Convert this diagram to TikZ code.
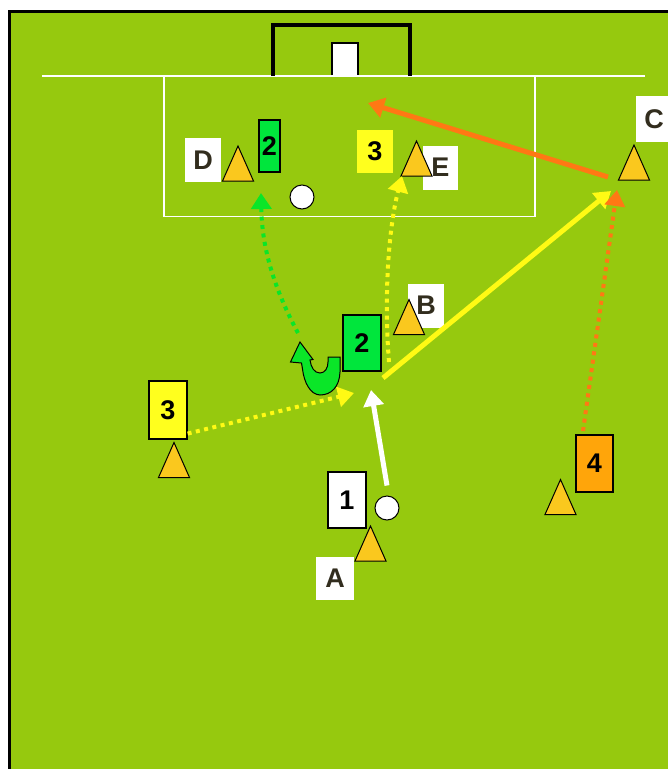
\documentclass[tikz,border=0pt]{standalone}
\usepackage{fontspec}
\setmainfont{Liberation Sans}
\usetikzlibrary{arrows.meta}

\definecolor{rasen}{RGB}{150,201,14}
\definecolor{hutfarbe}{RGB}{250,200,30}
\definecolor{gruen}{RGB}{0,230,60}
\definecolor{gelb}{RGB}{255,255,30}
\definecolor{orange}{RGB}{255,165,10}
\definecolor{laufgruen}{RGB}{10,230,40}
\definecolor{laufgelb}{RGB}{255,250,20}
\definecolor{lauforange}{RGB}{255,120,20}
\definecolor{schrift}{RGB}{50,45,30}

\tikzset{
    spieler/.style={rectangle, draw=black, line width=1.2pt, inner sep=0pt,
        minimum width=37pt, minimum height=56pt, font=\fontsize{27}{27}\selectfont\bfseries},
    marke/.style={rectangle, fill=white, inner sep=0pt, minimum width=36pt,
        minimum height=44pt, text=schrift, font=\fontsize{27}{27}\selectfont\bfseries},
    ball/.style={circle, draw=black, fill=white, line width=1pt, minimum size=24pt, inner sep=0pt},
    spitze/.style={-{Triangle[length=16pt,width=20pt]}},
    pass/.style={spitze, line width=4pt, dash pattern=on 4pt off 4.5pt},
    schuss/.style={spitze, line width=5pt},
    hut/.pic={\filldraw[fill=hutfarbe, draw=black, line width=1pt]
        (-15.5,17.5) -- (0,-17.5) -- (15.5,17.5) -- cycle;}
}

\begin{document}
\begin{tikzpicture}[x=1pt, y=-1pt]
    \useasboundingbox (0,0) rectangle (668,769);
    \clip (0,0) rectangle (668,769);
    % Spielfeld
    \fill[white] (0,0) rectangle (668,769);
    \fill[rasen] (9,11) rectangle (668,769);
    \draw[line width=2.5pt] (9.5,769) -- (9.5,11.5) -- (668,11.5);
    \draw[white, line width=2pt] (42,76) -- (645,76);
    \draw[white, line width=1.5pt] (164,76) -- (164,216.5) -- (535,216.5) -- (535,76);
    \draw[line width=4pt] (273,76) -- (273,25) -- (410,25) -- (410,76);
    \filldraw[fill=white, draw=black, line width=1.5pt] (332,75) -- (332,43) -- (358,43) -- (358,75);

    % Buchstaben
    \path node[marke] (D) at (203,160) {D}
        node[marke, minimum width=35pt] (E) at (440.5,167.5) {E}
        node[marke] (B) at (426,305.5) {B}
        node[marke, minimum width=36pt, minimum height=46pt] (C) at (654,119) {C}
        node[marke, minimum width=38pt, minimum height=43pt] (A) at (335,578.5) {A};

    % Huetchen
    \coordinate (hutD) at (238,163.5);
    \coordinate (hutE) at (416.5,158.5);
    \coordinate (hutB) at (409,317);
    \coordinate (hutL) at (174,460);
    \coordinate (hutA) at (370.5,543.5);
    \coordinate (hutC) at (634,162.5);
    \coordinate (hutV) at (560.5,497);
    \foreach \h in {hutD,hutE,hutB,hutL,hutA,hutC,hutV}
        \pic at (\h) {hut};

    % Laufwege
    \coordinate (annahme) at (354,393);
    \coordinate (abspiel) at (383,378);
    \coordinate (ziel) at (611,191);
    \coordinate (startE) at (389,362);
    \coordinate (zielE) at (402,176);
    \coordinate (startD) at (298,333);
    \coordinate (zielD) at (261,193);
    \coordinate (start4) at (583,431);
    \coordinate (ziel4) at (617,190);
    \coordinate (startC) at (608,177);
    \coordinate (zielC) at (368,103);
    \coordinate (anspiel) at (371,390);

    % Spieler und Baelle
    \path node[spieler, fill=gruen, minimum width=21pt, minimum height=52pt] (zweiO) at (269.5,146) {2}
        node[spieler, fill=gelb, draw=none, minimum width=36pt, minimum height=43pt] (dreiO) at (375,151.5) {3}
        node[spieler, fill=gruen, minimum width=38pt] (zwei) at (362,343) {2}
        node[spieler, fill=gelb, minimum width=38pt, minimum height=58pt] (drei) at (168,410) {3}
        node[spieler, fill=white, minimum width=38pt] (eins) at (347,500) {1}
        node[spieler, fill=orange, minimum height=57pt] (vier) at (594.5,463.5) {4}
        node[ball] (ballD) at (302,197) {}
        node[ball] (ballA) at (387,508) {};

    \draw[pass, laufgelb] ([yshift=6pt]drei.south east) -- (annahme);
    \draw[schuss, white] ([yshift=10pt]ballA.north) -- (anspiel);
    \draw[schuss, laufgelb] (abspiel) -- (ziel);
    \draw[pass, laufgelb] (startE) .. controls (384,300) and (388,230) .. (zielE);
    \draw[pass, laufgruen] (startD) .. controls (275,290) and (262,250) .. (zielD);
    \draw[pass, lauforange] (start4) -- (ziel4);
    \draw[schuss, lauforange] (startC) -- (zielC);

    % Drehung
    \filldraw[fill=laufgruen, draw=black, line width=1pt] (328,357) -- (340,357) -- (340,372)
        .. controls (339.5,387) and (331,395) .. (320,395)
        .. controls (310,394.5) and (304,382) .. (302.5,369) -- (301.5,363) -- (290.5,362) -- (300,342)
        -- (313,359.5) -- (310,360) .. controls (311,367) and (314,373) .. (320,373)
        .. controls (325,373) and (328,368) .. (328,362) -- cycle;
\end{tikzpicture}
\end{document}
